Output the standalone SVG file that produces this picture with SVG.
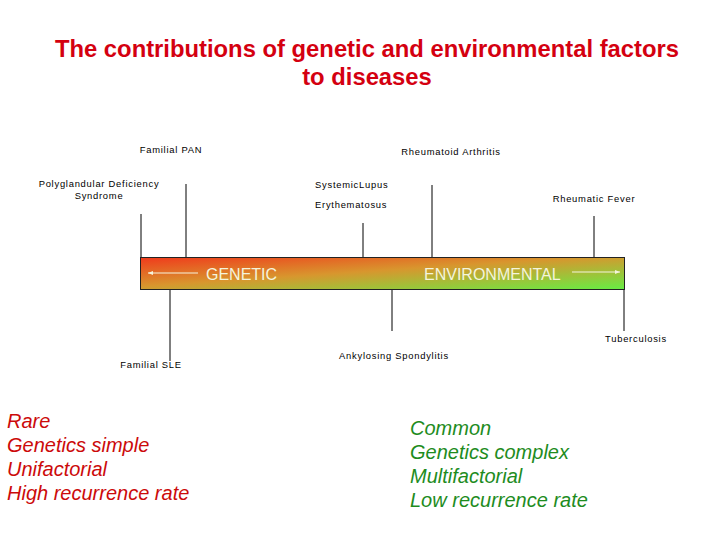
<svg xmlns="http://www.w3.org/2000/svg" width="720" height="540" viewBox="0 0 720 540">
<style>
.t{font-family:"Liberation Sans",Arial,sans-serif;font-weight:bold;font-size:23.8px;fill:#d40010;text-anchor:middle}
.lb{font-family:"Liberation Sans",Arial,sans-serif;font-size:9.4px;fill:#000;letter-spacing:0.75px}
.c{text-anchor:middle}
.tick{stroke:#000;stroke-width:1}
.bw{font-family:"Liberation Sans",Arial,sans-serif;font-size:16px;fill:#f4f4dc}
.lr{font-family:"Liberation Sans",Arial,sans-serif;font-style:italic;font-size:20px;fill:#cc0a0a}
.lg{font-family:"Liberation Sans",Arial,sans-serif;font-style:italic;font-size:20px;fill:#1e8c1e}
</style>
<defs>
<linearGradient id="g" x1="0" y1="0" x2="1" y2="1">
<stop offset="0" stop-color="#f03a1c"/>
<stop offset="0.45" stop-color="#d8962e"/>
<stop offset="1" stop-color="#66ee44"/>
</linearGradient>
<marker id="ah" viewBox="0 0 10 10" refX="10" refY="5" markerWidth="5" markerHeight="5" orient="auto-start-reverse">
<path d="M0,1 L10,5 L0,9 z" fill="#f4f4dc"/>
</marker>
</defs>
<rect width="720" height="540" fill="#fff"/>
<g id="title">
<text class="t" x="367" y="57">The contributions of genetic and environmental factors</text>
<text class="t" x="367" y="85">to diseases</text>
</g>
<g id="connectors">
<line class="tick" x1="141" y1="214" x2="141" y2="257"/>
<line class="tick" x1="186" y1="184" x2="186" y2="257"/>
<line class="tick" x1="363" y1="223" x2="363" y2="257"/>
<line class="tick" x1="432" y1="185" x2="432" y2="257"/>
<line class="tick" x1="594" y1="216" x2="594" y2="257"/>
<line class="tick" x1="170" y1="289" x2="170" y2="361"/>
<line class="tick" x1="392" y1="289" x2="392" y2="331"/>
<line class="tick" x1="624" y1="289" x2="624" y2="331"/>
</g>
<g id="bar">
<rect x="140.5" y="257.5" width="484" height="32" fill="url(#g)" stroke="#222" stroke-width="1"/>
<line x1="198" y1="273" x2="148" y2="273" stroke="#f4f4dc" stroke-width="1" marker-end="url(#ah)"/>
<line x1="572" y1="272" x2="620" y2="272" stroke="#f4f4dc" stroke-width="1" marker-end="url(#ah)"/>
<text class="bw" x="206" y="280">GENETIC</text>
<text class="bw" x="424" y="280">ENVIRONMENTAL</text>
</g>
<g id="familial-pan"><text class="lb c" x="171" y="153">Familial PAN</text></g>
<g id="rheumatoid-arthritis"><text class="lb c" x="451" y="155">Rheumatoid Arthritis</text></g>
<g id="polyglandular"><text class="lb c" x="99" y="187">Polyglandular Deficiency</text><text class="lb c" x="99" y="199">Syndrome</text></g>
<g id="sle"><text class="lb" x="315" y="188">SystemicLupus</text><text class="lb" x="315" y="208">Erythematosus</text></g>
<g id="rheumatic-fever"><text class="lb c" x="594" y="202">Rheumatic Fever</text></g>
<g id="tuberculosis"><text class="lb c" x="636" y="342">Tuberculosis</text></g>
<g id="ankylosing"><text class="lb c" x="394" y="359">Ankylosing Spondylitis</text></g>
<g id="familial-sle"><text class="lb c" x="151" y="368">Familial SLE</text></g>
<g id="genetic-list">
<text class="lr" x="7" y="428">Rare</text>
<text class="lr" x="7" y="452">Genetics simple</text>
<text class="lr" x="7" y="476">Unifactorial</text>
<text class="lr" x="7" y="500">High recurrence rate</text>
</g>
<g id="env-list">
<text class="lg" x="410" y="435">Common</text>
<text class="lg" x="410" y="459">Genetics complex</text>
<text class="lg" x="410" y="483">Multifactorial</text>
<text class="lg" x="410" y="507">Low recurrence rate</text>
</g>
</svg>
